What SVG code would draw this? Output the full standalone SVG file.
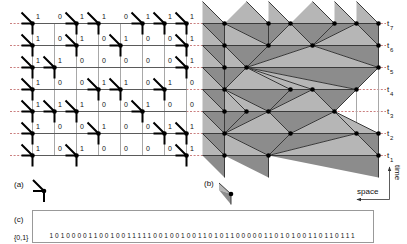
<svg xmlns="http://www.w3.org/2000/svg" xmlns:xlink="http://www.w3.org/1999/xlink" width="407" height="244" viewBox="0 0 407 244">
<style>
text{font-family:"Liberation Sans",Arial,sans-serif;fill:#111}
.lb{font-size:7px}
.cap{font-size:8px}
.dash{stroke:#c47070;stroke-width:0.9;stroke-dasharray:2,1.6;fill:none}
.gv{stroke:#a8a8a8;stroke-width:1;fill:none}
.gh{stroke:#5a5a5a;stroke-width:1;fill:none}
.arm{stroke:#000;stroke-width:2;fill:none}
.lt{fill:#b6b6b6;stroke:none}
.dk{fill:#8c8c8c;stroke:none}
.e{stroke:#3a3a3a;stroke-width:1;fill:none}
.ax{stroke:#333;stroke-width:0.8;fill:none}
</style>
<defs>
<g id="Y"><path class="arm" d="M-11,-11L0,0M-11,0H0V11"/><circle r="2.3" fill="#000"/></g>
<marker id="ah" viewBox="0 0 8 6" refX="7" refY="3" markerWidth="5" markerHeight="4" orient="auto" markerUnits="userSpaceOnUse"><path d="M0,0L8,3L0,6z" fill="#333"/></marker>
</defs>
<rect width="407" height="244" fill="#fff"/>

<g id="timelines">
<path class="dash" d="M10,23.5H386M10,45.5H386M10,67.5H386M10,89.5H386M10,111.5H386M10,133.5H386M10,155.5H386"/>
</g>

<g id="grid-a">
<path class="gv" d="M32.5,23.5V155.5M54.5,23.5V155.5M76.5,23.5V155.5M98.5,23.5V155.5M120.5,23.5V155.5M142.5,23.5V155.5M164.5,23.5V155.5M186.5,23.5V155.5"/>
<path class="gh" d="M21.5,23.5H186.5M21.5,45.5H186.5M21.5,67.5H186.5M21.5,89.5H186.5M21.5,111.5H186.5M21.5,133.5H186.5M21.5,155.5H186.5"/>
</g>

<g id="cells-a">
<g id="a-r7c0"><use href="#Y" x="32.5" y="23.5"/><text class="lb" x="36" y="19">1</text></g>
<g id="a-r7c1"><text class="lb" x="58" y="19">0</text></g>
<g id="a-r7c2"><use href="#Y" x="76.5" y="23.5"/><text class="lb" x="80" y="19">1</text></g>
<g id="a-r7c3"><use href="#Y" x="98.5" y="23.5"/><text class="lb" x="102" y="19">1</text></g>
<g id="a-r7c4"><text class="lb" x="124" y="19">0</text></g>
<g id="a-r7c5"><use href="#Y" x="142.5" y="23.5"/><text class="lb" x="146" y="19">1</text></g>
<g id="a-r7c6"><use href="#Y" x="164.5" y="23.5"/><text class="lb" x="168" y="19">1</text></g>
<g id="a-r7c7"><use href="#Y" x="186.5" y="23.5"/><text class="lb" x="190" y="19">1</text></g>

<g id="a-r6c0"><use href="#Y" x="32.5" y="45.5"/><text class="lb" x="36" y="41">1</text></g>
<g id="a-r6c1"><text class="lb" x="58" y="41">0</text></g>
<g id="a-r6c2"><use href="#Y" x="76.5" y="45.5"/><text class="lb" x="80" y="41">1</text></g>
<g id="a-r6c3"><text class="lb" x="102" y="41">0</text></g>
<g id="a-r6c4"><use href="#Y" x="120.5" y="45.5"/><text class="lb" x="124" y="41">1</text></g>
<g id="a-r6c5"><text class="lb" x="146" y="41">0</text></g>
<g id="a-r6c6"><text class="lb" x="168" y="41">0</text></g>
<g id="a-r6c7"><use href="#Y" x="186.5" y="45.5"/><text class="lb" x="190" y="41">1</text></g>

<g id="a-r5c0"><use href="#Y" x="32.5" y="67.5"/><text class="lb" x="36" y="63">1</text></g>
<g id="a-r5c1"><use href="#Y" x="54.5" y="67.5"/><text class="lb" x="58" y="63">1</text></g>
<g id="a-r5c2"><text class="lb" x="80" y="63">0</text></g>
<g id="a-r5c3"><text class="lb" x="102" y="63">0</text></g>
<g id="a-r5c4"><text class="lb" x="124" y="63">0</text></g>
<g id="a-r5c5"><text class="lb" x="146" y="63">0</text></g>
<g id="a-r5c6"><text class="lb" x="168" y="63">0</text></g>
<g id="a-r5c7"><use href="#Y" x="186.5" y="67.5"/><text class="lb" x="190" y="63">1</text></g>

<g id="a-r4c0"><use href="#Y" x="32.5" y="89.5"/><text class="lb" x="36" y="85">1</text></g>
<g id="a-r4c1"><text class="lb" x="58" y="85">0</text></g>
<g id="a-r4c2"><text class="lb" x="80" y="85">0</text></g>
<g id="a-r4c3"><use href="#Y" x="98.5" y="89.5"/><text class="lb" x="102" y="85">1</text></g>
<g id="a-r4c4"><use href="#Y" x="120.5" y="89.5"/><text class="lb" x="124" y="85">1</text></g>
<g id="a-r4c5"><text class="lb" x="146" y="85">0</text></g>
<g id="a-r4c6"><use href="#Y" x="164.5" y="89.5"/><text class="lb" x="168" y="85">1</text></g>
<g id="a-r4c7"><text class="lb" x="190" y="85">0</text></g>

<g id="a-r3c0"><use href="#Y" x="32.5" y="111.5"/><text class="lb" x="36" y="107">1</text></g>
<g id="a-r3c1"><use href="#Y" x="54.5" y="111.5"/><text class="lb" x="58" y="107">1</text></g>
<g id="a-r3c2"><use href="#Y" x="76.5" y="111.5"/><text class="lb" x="80" y="107">1</text></g>
<g id="a-r3c3"><text class="lb" x="102" y="107">0</text></g>
<g id="a-r3c4"><text class="lb" x="124" y="107">0</text></g>
<g id="a-r3c5"><use href="#Y" x="142.5" y="111.5"/><text class="lb" x="146" y="107">1</text></g>
<g id="a-r3c6"><text class="lb" x="168" y="107">0</text></g>
<g id="a-r3c7"><text class="lb" x="190" y="107">0</text></g>

<g id="a-r2c0"><use href="#Y" x="32.5" y="133.5"/><text class="lb" x="36" y="129">1</text></g>
<g id="a-r2c1"><text class="lb" x="58" y="129">0</text></g>
<g id="a-r2c2"><text class="lb" x="80" y="129">0</text></g>
<g id="a-r2c3"><use href="#Y" x="98.5" y="133.5"/><text class="lb" x="102" y="129">1</text></g>
<g id="a-r2c4"><text class="lb" x="124" y="129">0</text></g>
<g id="a-r2c5"><text class="lb" x="146" y="129">0</text></g>
<g id="a-r2c6"><use href="#Y" x="164.5" y="133.5"/><text class="lb" x="168" y="129">1</text></g>
<g id="a-r2c7"><use href="#Y" x="186.5" y="133.5"/><text class="lb" x="190" y="129">1</text></g>

<g id="a-r1c0"><use href="#Y" x="32.5" y="155.5"/><text class="lb" x="36" y="151">1</text></g>
<g id="a-r1c1"><text class="lb" x="58" y="151">0</text></g>
<g id="a-r1c2"><use href="#Y" x="76.5" y="155.5"/><text class="lb" x="80" y="151">1</text></g>
<g id="a-r1c3"><text class="lb" x="102" y="151">0</text></g>
<g id="a-r1c4"><text class="lb" x="124" y="151">0</text></g>
<g id="a-r1c5"><text class="lb" x="146" y="151">0</text></g>
<g id="a-r1c6"><text class="lb" x="168" y="151">0</text></g>
<g id="a-r1c7"><use href="#Y" x="186.5" y="155.5"/><text class="lb" x="190" y="151">1</text></g>
</g>

<g id="grid-b">
<path class="gv" d="M224.5,23.5V155.5M246.5,23.5V155.5M268.5,23.5V155.5M290.5,23.5V155.5M312.5,23.5V155.5M334.5,23.5V155.5M356.5,23.5V155.5M378.5,23.5V155.5"/>
</g>

<g id="faces">
<polygon class="lt" points="202.5,23.5 224.5,23.5 202.5,1.5"/>
<polygon class="dk" points="202.5,23.5 224.5,23.5 224.5,45.5"/>
<polygon class="lt" points="224.5,23.5 268.5,23.5 246.5,1.5"/>
<polygon class="dk" points="224.5,23.5 268.5,23.5 268.5,45.5"/>
<polygon class="lt" points="268.5,23.5 290.5,23.5 268.5,1.5"/>
<polygon class="dk" points="268.5,23.5 290.5,23.5 268.5,45.5"/>
<polygon class="lt" points="290.5,23.5 334.5,23.5 312.5,1.5"/>
<polygon class="dk" points="290.5,23.5 334.5,23.5 312.5,45.5"/>
<polygon class="lt" points="334.5,23.5 356.5,23.5 334.5,1.5"/>
<polygon class="dk" points="334.5,23.5 356.5,23.5 312.5,45.5"/>
<polygon class="lt" points="356.5,23.5 378.5,23.5 356.5,1.5"/>
<polygon class="dk" points="356.5,23.5 378.5,23.5 378.5,45.5"/>

<polygon class="lt" points="202.5,45.5 224.5,45.5 202.5,23.5"/>
<polygon class="dk" points="202.5,45.5 224.5,45.5 224.5,67.5"/>
<polygon class="lt" points="224.5,45.5 268.5,45.5 224.5,23.5"/>
<polygon class="dk" points="224.5,45.5 268.5,45.5 246.5,67.5"/>
<polygon class="lt" points="268.5,45.5 312.5,45.5 290.5,23.5"/>
<polygon class="dk" points="268.5,45.5 312.5,45.5 246.5,67.5"/>
<polygon class="lt" points="312.5,45.5 378.5,45.5 356.5,23.5"/>
<polygon class="dk" points="312.5,45.5 378.5,45.5 378.5,67.5"/>

<polygon class="lt" points="202.5,67.5 224.5,67.5 202.5,45.5"/>
<polygon class="dk" points="202.5,67.5 224.5,67.5 224.5,89.5"/>
<polygon class="lt" points="224.5,67.5 246.5,67.5 224.5,45.5"/>
<polygon class="dk" points="224.5,67.5 246.5,67.5 224.5,89.5"/>
<polygon class="lt" points="246.5,67.5 378.5,67.5 312.5,45.5"/>
<polygon class="dk" points="246.5,67.5 378.5,67.5 356.5,89.5"/>

<polygon class="lt" points="202.5,89.5 224.5,89.5 202.5,67.5"/>
<polygon class="dk" points="202.5,89.5 224.5,89.5 224.5,111.5"/>
<polygon class="lt" points="224.5,89.5 290.5,89.5 246.5,67.5"/>
<polygon class="dk" points="224.5,89.5 290.5,89.5 268.5,111.5"/>
<polygon class="lt" points="290.5,89.5 312.5,89.5 246.5,67.5"/>
<polygon class="dk" points="290.5,89.5 312.5,89.5 268.5,111.5"/>
<polygon class="lt" points="312.5,89.5 356.5,89.5 246.5,67.5"/>
<polygon class="dk" points="312.5,89.5 356.5,89.5 334.5,111.5"/>

<polygon class="lt" points="202.5,111.5 224.5,111.5 202.5,89.5"/>
<polygon class="dk" points="202.5,111.5 224.5,111.5 224.5,133.5"/>
<polygon class="lt" points="224.5,111.5 246.5,111.5 224.5,89.5"/>
<polygon class="dk" points="224.5,111.5 246.5,111.5 224.5,133.5"/>
<polygon class="lt" points="246.5,111.5 268.5,111.5 224.5,89.5"/>
<polygon class="dk" points="246.5,111.5 268.5,111.5 224.5,133.5"/>
<polygon class="lt" points="268.5,111.5 334.5,111.5 312.5,89.5"/>
<polygon class="dk" points="268.5,111.5 334.5,111.5 290.5,133.5"/>

<polygon class="lt" points="202.5,133.5 224.5,133.5 202.5,111.5"/>
<polygon class="dk" points="202.5,133.5 224.5,133.5 224.5,155.5"/>
<polygon class="lt" points="224.5,133.5 290.5,133.5 268.5,111.5"/>
<polygon class="dk" points="224.5,133.5 290.5,133.5 268.5,155.5"/>
<polygon class="lt" points="290.5,133.5 356.5,133.5 334.5,111.5"/>
<polygon class="dk" points="290.5,133.5 356.5,133.5 268.5,155.5"/>
<polygon class="lt" points="356.5,133.5 378.5,133.5 334.5,111.5"/>
<polygon class="dk" points="356.5,133.5 378.5,133.5 378.5,155.5"/>

<polygon class="lt" points="202.5,155.5 224.5,155.5 202.5,133.5"/>
<polygon class="dk" points="202.5,155.5 224.5,155.5 224.5,177.5"/>
<polygon class="lt" points="224.5,155.5 268.5,155.5 224.5,133.5"/>
<polygon class="dk" points="224.5,155.5 268.5,155.5 268.5,177.5"/>
<polygon class="lt" points="268.5,155.5 378.5,155.5 356.5,133.5"/>
<polygon class="dk" points="268.5,155.5 378.5,155.5 378.5,177.5"/>
</g>

<g id="connectors">
<path class="e" d="M202.5,23.5H378.5M202.5,45.5H378.5M202.5,67.5H378.5M202.5,89.5H356.5M202.5,111.5H334.5M202.5,133.5H378.5M202.5,155.5H378.5"/>
<path class="e" d="M224.5,23.5L202.5,1.5M224.5,23.5L224.5,45.5
M268.5,23.5L246.5,1.5M268.5,23.5L268.5,45.5
M290.5,23.5L268.5,1.5M290.5,23.5L268.5,45.5
M334.5,23.5L312.5,1.5M334.5,23.5L312.5,45.5
M356.5,23.5L334.5,1.5M356.5,23.5L312.5,45.5
M378.5,23.5L356.5,1.5M378.5,23.5L378.5,45.5
M224.5,45.5L202.5,23.5M224.5,45.5L224.5,67.5
M268.5,45.5L224.5,23.5M268.5,45.5L246.5,67.5
M312.5,45.5L290.5,23.5M312.5,45.5L246.5,67.5
M378.5,45.5L356.5,23.5M378.5,45.5L378.5,67.5
M224.5,67.5L202.5,45.5M224.5,67.5L224.5,89.5
M246.5,67.5L224.5,45.5M246.5,67.5L224.5,89.5
M378.5,67.5L312.5,45.5M378.5,67.5L356.5,89.5
M224.5,89.5L202.5,67.5M224.5,89.5L224.5,111.5
M290.5,89.5L246.5,67.5M290.5,89.5L268.5,111.5
M312.5,89.5L246.5,67.5M312.5,89.5L268.5,111.5
M356.5,89.5L246.5,67.5M356.5,89.5L334.5,111.5
M224.5,111.5L202.5,89.5M224.5,111.5L224.5,133.5
M246.5,111.5L224.5,89.5M246.5,111.5L224.5,133.5
M268.5,111.5L224.5,89.5M268.5,111.5L224.5,133.5
M334.5,111.5L312.5,89.5M334.5,111.5L290.5,133.5
M224.5,133.5L202.5,111.5M224.5,133.5L224.5,155.5
M290.5,133.5L268.5,111.5M290.5,133.5L268.5,155.5
M356.5,133.5L334.5,111.5M356.5,133.5L268.5,155.5
M378.5,133.5L334.5,111.5M378.5,133.5L378.5,155.5
M224.5,155.5L202.5,133.5M224.5,155.5L224.5,177.5
M268.5,155.5L224.5,133.5M268.5,155.5L268.5,177.5
M378.5,155.5L356.5,133.5M378.5,155.5L378.5,177.5"/>
</g>

<g id="nodes-b" fill="#000">
<g id="b-r7c0"><circle cx="224.5" cy="23.5" r="2.3"/></g>
<g id="b-r7c2"><circle cx="268.5" cy="23.5" r="2.3"/></g>
<g id="b-r7c3"><circle cx="290.5" cy="23.5" r="2.3"/></g>
<g id="b-r7c5"><circle cx="334.5" cy="23.5" r="2.3"/></g>
<g id="b-r7c6"><circle cx="356.5" cy="23.5" r="2.3"/></g>
<g id="b-r7c7"><circle cx="378.5" cy="23.5" r="2.3"/></g>
<g id="b-r6c0"><circle cx="224.5" cy="45.5" r="2.3"/></g>
<g id="b-r6c2"><circle cx="268.5" cy="45.5" r="2.3"/></g>
<g id="b-r6c4"><circle cx="312.5" cy="45.5" r="2.3"/></g>
<g id="b-r6c7"><circle cx="378.5" cy="45.5" r="2.3"/></g>
<g id="b-r5c0"><circle cx="224.5" cy="67.5" r="2.3"/></g>
<g id="b-r5c1"><circle cx="246.5" cy="67.5" r="2.3"/></g>
<g id="b-r5c7"><circle cx="378.5" cy="67.5" r="2.3"/></g>
<g id="b-r4c0"><circle cx="224.5" cy="89.5" r="2.3"/></g>
<g id="b-r4c3"><circle cx="290.5" cy="89.5" r="2.3"/></g>
<g id="b-r4c4"><circle cx="312.5" cy="89.5" r="2.3"/></g>
<g id="b-r4c6"><circle cx="356.5" cy="89.5" r="2.3"/></g>
<g id="b-r3c0"><circle cx="224.5" cy="111.5" r="2.3"/></g>
<g id="b-r3c1"><circle cx="246.5" cy="111.5" r="2.3"/></g>
<g id="b-r3c2"><circle cx="268.5" cy="111.5" r="2.3"/></g>
<g id="b-r3c5"><circle cx="334.5" cy="111.5" r="2.3"/></g>
<g id="b-r2c0"><circle cx="224.5" cy="133.5" r="2.3"/></g>
<g id="b-r2c3"><circle cx="290.5" cy="133.5" r="2.3"/></g>
<g id="b-r2c6"><circle cx="356.5" cy="133.5" r="2.3"/></g>
<g id="b-r2c7"><circle cx="378.5" cy="133.5" r="2.3"/></g>
<g id="b-r1c0"><circle cx="224.5" cy="155.5" r="2.3"/></g>
<g id="b-r1c2"><circle cx="268.5" cy="155.5" r="2.3"/></g>
<g id="b-r1c7"><circle cx="378.5" cy="155.5" r="2.3"/></g>
</g>

<g id="time-labels">
<text class="cap" x="387" y="26">t</text><text x="390" y="29.5" font-size="6">7</text>
<text class="cap" x="387" y="48">t</text><text x="390" y="51.5" font-size="6">6</text>
<text class="cap" x="387" y="70">t</text><text x="390" y="73.5" font-size="6">5</text>
<text class="cap" x="387" y="92">t</text><text x="390" y="95.5" font-size="6">4</text>
<text class="cap" x="387" y="114">t</text><text x="390" y="117.5" font-size="6">3</text>
<text class="cap" x="387" y="136">t</text><text x="390" y="139.5" font-size="6">2</text>
<text class="cap" x="387" y="158">t</text><text x="390" y="161.5" font-size="6">1</text>
</g>

<g id="legend-a">
<text class="cap" x="14" y="187">(a)</text>
<use href="#Y" x="44" y="191"/>
</g>

<g id="legend-b">
<text class="cap" x="204" y="186">(b)</text>
<polygon class="lt" points="219,183 231,194 219,190"/>
<polygon class="dk" points="219,190 231,194 231,204.5"/>
<path class="e" d="M219,183L231,194V204.5"/>
<circle cx="231" cy="194" r="2.3" fill="#000"/>
</g>

<g id="axes">
<path class="ax" d="M389.5,199.5H357" marker-end="url(#ah)"/>
<path class="ax" d="M389.5,199.5V167" marker-end="url(#ah)"/>
<text class="cap" x="357" y="194">space</text>
<text class="cap" transform="translate(395,165) rotate(90)">time</text>
</g>

<g id="panel-c">
<text class="cap" x="14" y="222">(c)</text>
<text class="lb" x="14" y="240">{0,1}</text>
<rect x="32.5" y="210.5" width="341" height="32" fill="none" stroke="#999" stroke-width="1"/>
<text x="49.5" y="238" font-size="6.5" textLength="305" lengthAdjust="spacing">10100001100100111110010010011010110000011010100110110111</text>
</g>
</svg>
